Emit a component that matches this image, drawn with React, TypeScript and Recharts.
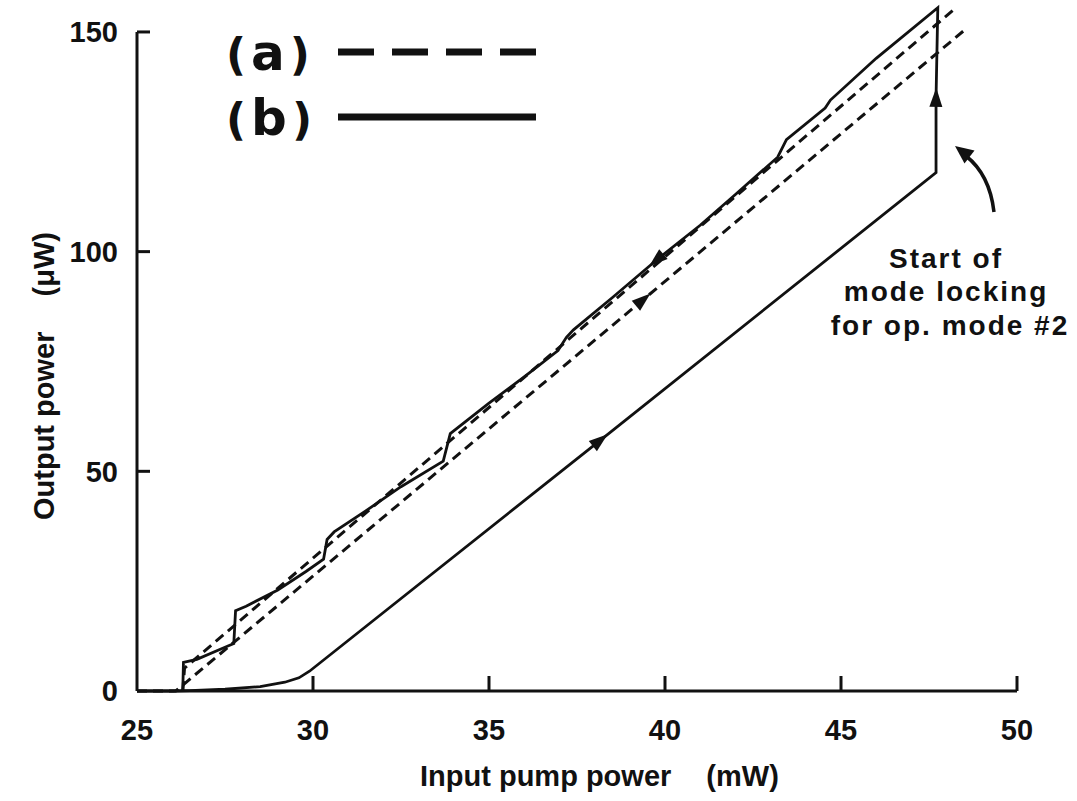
import React from 'react';
import { LineChart, Line, XAxis, YAxis, ReferenceLine } from 'recharts';

const INK = '#111';

const pumpTicks = [25, 30, 35, 40, 45, 50];
const powerTicks = [0, 50, 100, 150];

// (b) solid loop: rising branch, jump at ~47.7 mW, then stepped return branch
const loopBPump = [25, 26, 26.5, 27.5, 28.5, 29.2, 29.6, 29.9, 38.15, 47.7, 47.7, 47.75, 46, 44.7, 44.55, 43.45, 43.2, 42, 41, 39.76, 38.5, 37.4, 37.2, 36.96, 36, 35, 33.9, 33.7, 32.5, 31.5, 30.6, 30.4, 30.3, 29.8, 29, 28.1, 27.8, 27.75, 27.6, 26.7, 26.32, 26.3];
const loopBPower = [0, 0, 0.1, 0.4, 1.0, 2.0, 3.0, 4.5, 57, 118, 135, 155.5, 144, 134.5, 132.7, 125.5, 121.5, 113, 106, 98.1, 89.5, 82.2, 80.5, 77.5, 71.5, 65.5, 58.6, 52.3, 46.5, 41, 36.2, 34.5, 30.0, 27.2, 23, 19.3, 18.3, 10.8, 10.3, 7.2, 6.5, 0];
const loopBArrows = [8, 10, 19];

// (a) dashed: rising and returning branches
const riseAPump = [25, 26.1, 39.37, 48.52];
const riseAPower = [0, 0, 89, 150.5];
const riseAArrows = [2];

const fallAPump = [26.3, 26.35, 48.19];
const fallAPower = [0, 5.2, 155];

const toRows = (xs: number[], ys: number[]) => xs.map((x, i) => ({ x, y: ys[i] }));

const loopB = toRows(loopBPump, loopBPower);
const riseA = toRows(riseAPump, riseAPower);
const fallA = toRows(fallAPump, fallAPower);

// arrowhead at the marked points, pointing toward the next point of the path
const arrowDot = (marks: number[]) => (p: any) => {
  const { cx, cy, index, points } = p;
  const next = points && points[index + 1];
  if (!marks.includes(index) || !next) return <g key={`d${index}`} />;
  const ang = (Math.atan2(next.y - cy, next.x - cx) * 180) / Math.PI;
  return (
    <path
      key={`d${index}`}
      d="M 10 0 L -9 -6.5 L -9 6.5 Z"
      transform={`translate(${cx},${cy}) rotate(${ang})`}
      fill={INK}
      stroke="none"
    />
  );
};

const tickFont = { fontFamily: 'Liberation Sans, Arial, sans-serif', fontWeight: 700, fontSize: 29, fill: INK };

const PumpTick = (p: any) => {
  const { x, y, payload } = p;
  return (
    <g>
      {payload.value !== 25 && <line x1={x} x2={x} y1={y} y2={y - 15} stroke={INK} strokeWidth={3} />}
      <text x={x} y={y + 49} textAnchor="middle" {...tickFont}>
        {payload.value}
      </text>
    </g>
  );
};

const PowerTick = (p: any) => {
  const { x, y, payload } = p;
  return (
    <g>
      {payload.value !== 0 && <line x1={x} x2={x + 13} y1={y} y2={y} stroke={INK} strokeWidth={3} />}
      <text x={x - 19} y={y} dy="0.36em" textAnchor="end" {...tickFont}>
        {payload.value}
      </text>
    </g>
  );
};

const labelFont = { fontFamily: 'Liberation Sans, Arial, sans-serif', fontWeight: 700, fontSize: 29, fill: INK };
const noteFont = { fontFamily: 'Liberation Sans, Arial, sans-serif', fontWeight: 700, fontSize: 28, fill: INK, letterSpacing: 2 };
const legendFont = { fontFamily: 'DejaVu Sans, sans-serif', fontWeight: 700, fill: INK };

export default function App() {
  return (
    <div style={{ position: 'absolute', left: 0, top: 0, width: 1077, height: 801, background: '#fff' }}>
      <LineChart width={1077} height={801} margin={{ top: 1.2, right: 60, bottom: 0, left: 0 }}>
        <XAxis
          type="number"
          dataKey="x"
          domain={[25, 50]}
          ticks={pumpTicks}
          tickSize={0}
          tickMargin={0}
          tickLine={false}
          axisLine={{ stroke: INK, strokeWidth: 3 }}
          tick={<PumpTick />}
          height={110}
          interval={0}
        />
        <YAxis
          type="number"
          dataKey="y"
          domain={[0, 157]}
          ticks={powerTicks}
          tickSize={0}
          tickMargin={0}
          tickLine={false}
          axisLine={false}
          tick={<PowerTick />}
          width={137}
          interval={0}
        />
        <ReferenceLine segment={[{ x: 25, y: 0 }, { x: 25, y: 150 }]} stroke={INK} strokeWidth={3} />
        <Line
          data={riseA}
          dataKey="y"
          type="linear"
          stroke={INK}
          strokeWidth={3}
          strokeDasharray="10 6"
          dot={arrowDot(riseAArrows)}
          activeDot={false}
          isAnimationActive={false}
        />
        <Line
          data={fallA}
          dataKey="y"
          type="linear"
          stroke={INK}
          strokeWidth={3}
          strokeDasharray="10 6"
          dot={false}
          activeDot={false}
          isAnimationActive={false}
        />
        <Line
          data={loopB}
          dataKey="y"
          type="linear"
          stroke={INK}
          strokeWidth={2.8}
          dot={arrowDot(loopBArrows)}
          activeDot={false}
          isAnimationActive={false}
        />
      </LineChart>
      <svg width={1077} height={801} style={{ position: 'absolute', left: 0, top: 0, pointerEvents: 'none' }}>
        {/* legend */}
        <text x={226} y={70} {...legendFont}>
          <tspan fontSize={44}>(</tspan>
          <tspan fontSize={50} dx={5}>a</tspan>
          <tspan fontSize={44} dx={5}>)</tspan>
        </text>
        <line x1={338} x2={536} y1={52} y2={52} stroke={INK} strokeWidth={7} strokeDasharray="36 18" />
        <text x={226} y={135} {...legendFont}>
          <tspan fontSize={44}>(</tspan>
          <tspan fontSize={50} dx={5}>b</tspan>
          <tspan fontSize={44} dx={5}>)</tspan>
        </text>
        <line x1={338} x2={536} y1={117} y2={117} stroke={INK} strokeWidth={7} />
        {/* axis labels */}
        <text x={420} y={786} {...labelFont}>
          Input pump power<tspan dx={35}>(mW)</tspan>
        </text>
        <text transform="translate(54,520) rotate(-90)" {...labelFont}>
          Output power<tspan dx={35}>(μW)</tspan>
        </text>
        {/* annotation */}
        <text x={946} y={268} textAnchor="middle" {...noteFont}>Start of</text>
        <text x={946} y={301} textAnchor="middle" {...noteFont}>mode locking</text>
        <text x={950} y={335} textAnchor="middle" {...noteFont}>for op. mode #2</text>
        <path d="M 994 212 C 991 186, 980 167, 966 156" fill="none" stroke={INK} strokeWidth={3.5} />
        <path d="M 955 146 L 974.5 150.5 L 964.5 163.5 Z" fill={INK} />
      </svg>
    </div>
  );
}
